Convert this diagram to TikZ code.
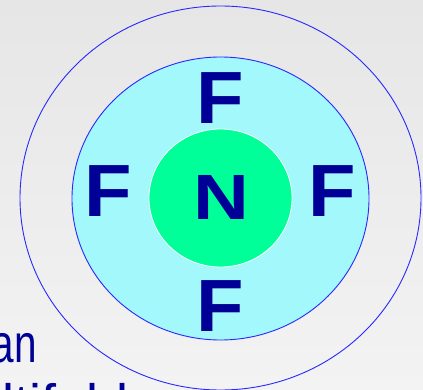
\documentclass[tikz,border=0pt]{standalone}
\usepackage{fontspec}
\setmainfont{Liberation Sans}
\usetikzlibrary{shapes.geometric}
\definecolor{navy}{RGB}{0,0,150}
\definecolor{shellblue}{RGB}{40,40,255}
\definecolor{cyanfill}{RGB}{162,248,250}
\definecolor{corefill}{RGB}{0,255,153}
\definecolor{bgtop}{RGB}{230,230,230}
\definecolor{bgbot}{RGB}{243,243,243}
\tikzset{shell/.style = {shape = ellipse, draw = shellblue, line width = 0.9pt, inner sep = 0pt}}
\tikzset{atom/.style = {text = navy, font = \fontsize{74}{74}\selectfont\bfseries, inner sep = 0pt, xscale = 1.05}}
\tikzset{body/.style = {text = navy, font = \fontsize{54}{54}\selectfont, inner sep = 0pt}}

\begin{document}
\begin{tikzpicture}[x = 1pt, y = -1pt]
			\clip (0, 0) rectangle (423, 390);
			\shade[top color = bgtop, bottom color = bgbot] (0, 0) rectangle (423, 390);

			\node[shell, minimum width = 401pt, minimum height = 384pt] (outer) at (220.5, 198) {};
			\node[shell, fill = cyanfill, minimum width = 297pt, minimum height = 283pt] (middle) at (220.5, 198.5) {};
			\node[shape = ellipse, draw = white, fill = corefill, line width = 0.8pt, inner sep = 0pt, minimum width = 143pt, minimum height = 138pt] (core) at (220.5, 198) {};

			\node[atom, font = \fontsize{64}{64}\selectfont\bfseries, xscale = 1.15] (n) at (221, 197.5) {N};
			\node[atom] (ftop) at (220.5, 98) {F};
			\node[atom] (fleft) at (108, 191.5) {F};
			\node[atom] (fright) at (332.5, 191.5) {F};
			\node[atom] (fbottom) at (220.5, 306.5) {F};

			\node[body, anchor = base east, xscale = 0.75] (line1) at (37, 362) {an};
			\node[body, anchor = base west] (line2) at (-73, 422) {multifold};
		\end{tikzpicture}
\end{document}
